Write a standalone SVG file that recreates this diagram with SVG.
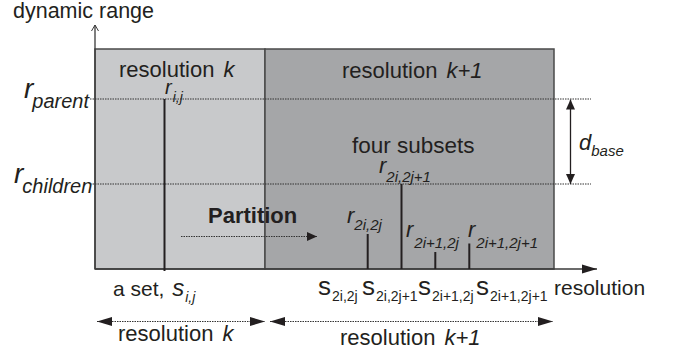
<svg xmlns="http://www.w3.org/2000/svg" width="680" height="358" viewBox="0 0 680 358">
<style>
text{font-family:"Liberation Sans",Arial,sans-serif;fill:#231f20}
.it{font-style:italic}
.bd{font-weight:bold}
.dot{stroke:#333;stroke-width:1;stroke-dasharray:1.5 1;fill:none}
.bar{stroke:#231f20;stroke-width:2}
.ax{stroke:#3a3a3a;stroke-width:1.3;fill:none}
</style>
<defs>
<marker id="big" markerWidth="15" markerHeight="10" refX="15" refY="5" orient="auto-start-reverse" markerUnits="userSpaceOnUse"><path d="M0,0.5 L15,5 L0,9.5 z" fill="#231f20"/></marker>
<marker id="sm" markerWidth="10" markerHeight="10" refX="10" refY="5" orient="auto-start-reverse" markerUnits="userSpaceOnUse"><path d="M0,0.5 L10,5 L0,9.5 z" fill="#231f20"/></marker>
<marker id="open" markerWidth="10" markerHeight="10" refX="7" refY="5" orient="auto" markerUnits="userSpaceOnUse"><path d="M1,1.5 L7,5 L1,8.5" fill="none" stroke="#3a3a3a" stroke-width="1"/></marker>
</defs>

<g id="region-k">
<rect x="95" y="49" width="170" height="220" fill="#c8c9cb" stroke="#4a4a4a" stroke-width="1.5"/>
<text x="119" y="77" font-size="22">resolution <tspan class="it" dx="3">k</tspan></text>
</g>
<g id="region-k1">
<rect x="265" y="49" width="289" height="220" fill="#a5a6a8" stroke="#4a4a4a" stroke-width="1.5"/>
<text x="342" y="78" font-size="22">resolution <tspan class="it" dx="3">k+1</tspan></text>
<text x="352" y="153" font-size="22.5">four subsets</text>
</g>

<g id="axes">
<line class="ax" x1="95" y1="269" x2="95" y2="25" marker-end="url(#open)"/>
<line class="ax" x1="95" y1="269" x2="597" y2="269" marker-end="url(#big)"/>
<text x="13" y="18" font-size="21.5">dynamic range</text>
<text x="554" y="295" font-size="21">resolution</text>
</g>

<g id="levels">
<line class="dot" x1="90" y1="99" x2="591" y2="99"/>
<line class="dot" x1="90" y1="184" x2="591" y2="184"/>
<text x="24" y="98" font-size="28" class="it">r<tspan font-size="20" dy="10" dx="-1">parent</tspan></text>
<text x="14" y="183" font-size="28" class="it">r<tspan font-size="20" dy="10" dx="-1">children</tspan></text>
</g>

<g id="set-ij">
<line class="bar" x1="164.5" y1="99" x2="164.5" y2="271"/>
<text x="165" y="94" font-size="20" class="it">r<tspan font-size="14" dy="8" dx="1">i,j</tspan></text>
<text x="113" y="296" font-size="21">a set, <tspan class="it" font-size="24" dx="2">s</tspan><tspan class="it" font-size="14" dy="6" dx="1">i,j</tspan></text>
</g>

<g id="subset-1">
<line class="bar" x1="367.7" y1="234" x2="367.7" y2="269"/>
<text x="347" y="223" font-size="22" class="it">r<tspan font-size="15" dy="7" dx="0">2i,2j</tspan></text>
<text x="318" y="295" font-size="26">s<tspan font-size="14" dy="6" dx="1">2i,2j</tspan></text>
</g>
<g id="subset-2">
<line class="bar" x1="401.5" y1="184" x2="401.5" y2="269"/>
<text x="379" y="173" font-size="22" class="it">r<tspan font-size="15" dy="8.5" dx="0">2i,2j+1</tspan></text>
<text x="362" y="295" font-size="26">s<tspan font-size="14" dy="6" dx="1">2i,2j+1</tspan></text>
</g>
<g id="subset-3">
<line class="bar" x1="435.3" y1="252" x2="435.3" y2="269"/>
<text x="406" y="237" font-size="22" class="it">r<tspan font-size="15" dy="11" dx="1">2i+1,2j</tspan></text>
<text x="418" y="295" font-size="26">s<tspan font-size="14" dy="6" dx="1">2i+1,2j</tspan></text>
</g>
<g id="subset-4">
<line class="bar" x1="469.3" y1="243.5" x2="469.3" y2="269"/>
<text x="468" y="237" font-size="22" class="it">r<tspan font-size="15" dy="11" dx="1">2i+1,2j+1</tspan></text>
<text x="476" y="295" font-size="26">s<tspan font-size="14" dy="6" dx="1">2i+1,2j+1</tspan></text>
</g>

<g id="connectors">
<line class="dot" x1="181" y1="236.5" x2="317" y2="236.5" marker-end="url(#sm)"/>
<line x1="570.5" y1="99.5" x2="570.5" y2="184" stroke="#231f20" stroke-width="1.3" marker-start="url(#sm)" marker-end="url(#sm)"/>
<line class="dot" x1="97" y1="321.5" x2="265" y2="321.5" marker-start="url(#big)" marker-end="url(#big)"/>
<line class="dot" x1="270" y1="321.5" x2="553" y2="321.5" marker-start="url(#big)" marker-end="url(#big)"/>
</g>

<g id="labels">
<text x="208" y="223" font-size="22" class="bd">Partition</text>
<text x="579" y="150" font-size="22" class="it">d<tspan font-size="15" dy="6" dx="0">base</tspan></text>
<text x="118" y="341" font-size="22">resolution <tspan class="it" dx="3">k</tspan></text>
<text x="340" y="345" font-size="22">resolution <tspan class="it" dx="3">k+1</tspan></text>
</g>
</svg>
